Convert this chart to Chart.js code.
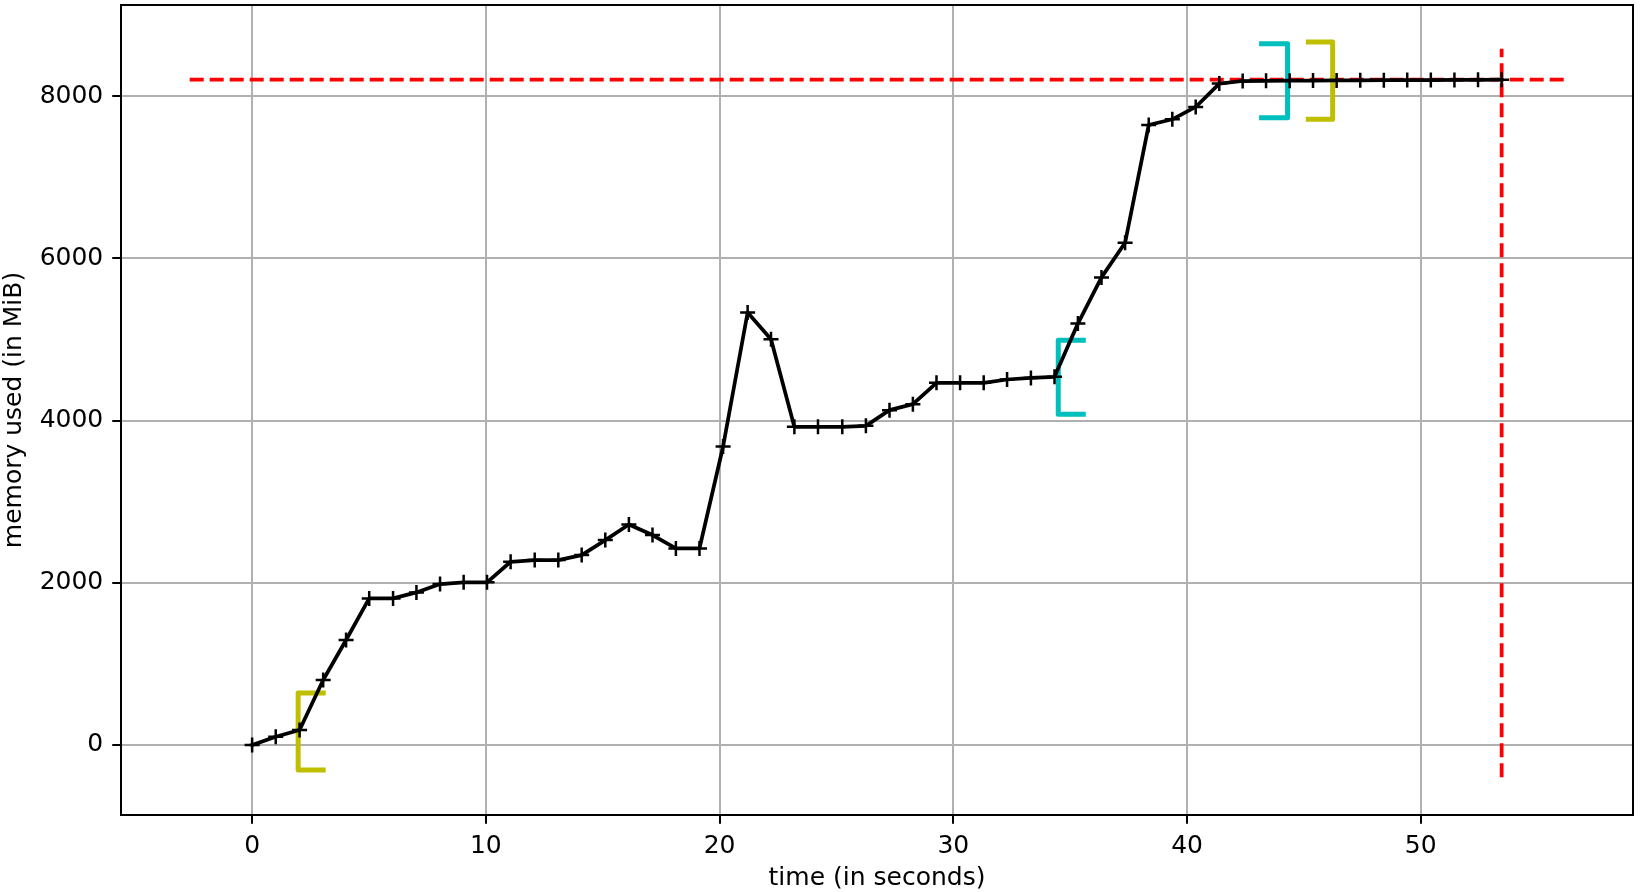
<!DOCTYPE html>
<html>
<head>
<meta charset="utf-8">
<title>memory usage</title>
<script src="https://cdn.jsdelivr.net/npm/chart.js@4.4.1/dist/chart.umd.min.js"></script>
<style>
	html, body { margin: 0; padding: 0; background: #fff; }
	#chart { display: block; }
</style>
</head>
<body>
<canvas id="chart" width="1640" height="892"></canvas>
<script>
(function () {
	'use strict';

	// Profiler samples: time (s) and memory (MiB).
	var TIME = [0, 1.01, 2.03, 3.04, 4.02, 5.01, 6.03, 7.03, 8.04, 9.05,
		10.05, 11.06, 12.09, 13.1, 14.1, 15.11, 16.12, 17.13, 18.13, 19.14,
		20.15, 21.2, 22.2, 23.2, 24.21, 25.25, 26.26, 27.27, 28.27, 29.28,
		30.29, 31.3, 32.3, 33.32, 34.33, 35.33, 36.34, 37.35, 38.36, 39.37,
		40.37, 41.38, 42.38, 43.38, 44.39, 45.39, 46.4, 47.41, 48.42, 49.42,
		50.43, 51.44, 52.45, 53.46];
	var MEMORY = [0, 102, 185, 801, 1294, 1807, 1807, 1881, 1984, 2005,
		2005, 2259, 2280, 2280, 2341, 2526, 2719, 2588, 2424, 2424,
		3680, 5332, 5003, 3922, 3922, 3922, 3935, 4128, 4202, 4465,
		4465, 4465, 4506, 4526, 4539, 5196, 5765, 6192, 7643, 7714,
		7866, 8154, 8186, 8188, 8190, 8192, 8193, 8195, 8196, 8197,
		8198, 8199, 8200, 8202];

	// Peak memory markers (dashed red).
	var PEAK_H_X = [-2.67, 56.12];
	var PEAK_H_Y = [8202, 8202];
	var PEAK_V_X = [53.46, 53.46];
	var PEAK_V_Y = [-398, 8585];

	// Function brackets, corner points.
	var YELLOW_START_X = [3.04, 1.97, 1.97, 3.04];
	var YELLOW_START_Y = [640, 640, -308, -308];
	var YELLOW_END_X = [45.19, 46.23, 46.23, 45.19];
	var YELLOW_END_Y = [8667, 8667, 7714, 7714];
	var CYAN_START_X = [35.56, 34.49, 34.49, 35.56];
	var CYAN_START_Y = [4991, 4991, 4079, 4079];
	var CYAN_END_X = [43.19, 44.3, 44.3, 43.19];
	var CYAN_END_Y = [8645, 8645, 7733, 7733];

	// Axes.
	var X_TICKS = [0, 10, 20, 30, 40, 50];
	var Y_TICKS = [0, 2000, 4000, 6000, 8000];
	var X_RANGE = [-5.61, 59.08];
	var Y_RANGE = [-863, 9123];

	var FONT = 'DejaVu Sans';

	function pts(xs, ys) {
		return xs.map(function (x, i) { return { x: x, y: ys[i] }; });
	}

	function bracket(xs, ys, color) {
		return {
			data: pts(xs, ys),
			borderColor: color,
			borderWidth: 5,
			borderJoinStyle: 'round',
			borderCapStyle: 'square',
			pointRadius: 0
		};
	}

	function dashed(xs, ys) {
		return {
			data: pts(xs, ys),
			borderColor: '#ff0000',
			borderWidth: 3.75,
			borderDash: [14, 6],
			pointRadius: 0
		};
	}

	// Black frame round the plot area, like matplotlib spines.
	var framePlugin = {
		id: 'frame',
		afterDraw: function (chart) {
			var a = chart.chartArea;
			var ctx = chart.ctx;
			ctx.save();
			ctx.strokeStyle = '#000';
			ctx.lineWidth = 2;
			ctx.strokeRect(a.left, a.top, a.right - a.left, a.bottom - a.top);
			ctx.restore();
		}
	};

	function fixTicks(values) {
		return function (scale) {
			scale.ticks = values.map(function (v) { return { value: v }; });
		};
	}

	var tickFont = { family: FONT, size: 25 };
	var titleFont = { family: FONT, size: 25, lineHeight: 1 };

	new Chart(document.getElementById('chart'), {
		type: 'line',
		data: {
			datasets: [
				{
					data: pts(TIME, MEMORY),
					borderColor: '#000',
					borderWidth: 3.75,
					borderJoinStyle: 'round',
					borderCapStyle: 'square',
					pointStyle: 'cross',
					pointRadius: 7.5,
					pointBorderWidth: 2.5,
					pointBorderColor: '#000',
					tension: 0
				},
				bracket(YELLOW_START_X, YELLOW_START_Y, '#bfbf00'),
				bracket(YELLOW_END_X, YELLOW_END_Y, '#bfbf00'),
				bracket(CYAN_START_X, CYAN_START_Y, '#00bfbf'),
				bracket(CYAN_END_X, CYAN_END_Y, '#00bfbf'),
				dashed(PEAK_H_X, PEAK_H_Y),
				dashed(PEAK_V_X, PEAK_V_Y)
			]
		},
		options: {
			responsive: false,
			animation: false,
			devicePixelRatio: 1,
			layout: { autoPadding: false, padding: { top: 5, right: 7, bottom: 0, left: 0 } },
			plugins: { legend: { display: false }, tooltip: { enabled: false } },
			scales: {
				x: {
					type: 'linear',
					min: X_RANGE[0],
					max: X_RANGE[1],
					afterBuildTicks: fixTicks(X_TICKS),
					afterFit: function (s) { s.height = 77; s.paddingLeft = 0; s.paddingRight = 0; },
					border: { display: false },
					grid: { color: '#b0b0b0', lineWidth: 2, tickColor: '#000', tickLength: 8.75, tickWidth: 2 },
					ticks: { font: tickFont, color: '#000', padding: 8, maxRotation: 0, autoSkip: false,
						callback: function (v) { return String(v); } },
					title: { display: true, text: 'time (in seconds)', font: titleFont, color: '#000', padding: { top: 0, bottom: 1 } }
				},
				y: {
					type: 'linear',
					min: Y_RANGE[0],
					max: Y_RANGE[1],
					afterBuildTicks: fixTicks(Y_TICKS),
					afterFit: function (s) { s.width = 121; s.paddingTop = 0; s.paddingBottom = 0; },
					border: { display: false },
					grid: { color: '#b0b0b0', lineWidth: 2, tickColor: '#000', tickLength: 8.75, tickWidth: 2 },
					ticks: { font: tickFont, color: '#000', padding: 9, autoSkip: false,
						callback: function (v) { return String(v); } },
					title: { display: true, text: 'memory used (in MiB)', font: titleFont, color: '#000', padding: { top: 2, bottom: 0 } }
				}
			}
		},
		plugins: [framePlugin]
	});
})();
</script>
</body>
</html>
